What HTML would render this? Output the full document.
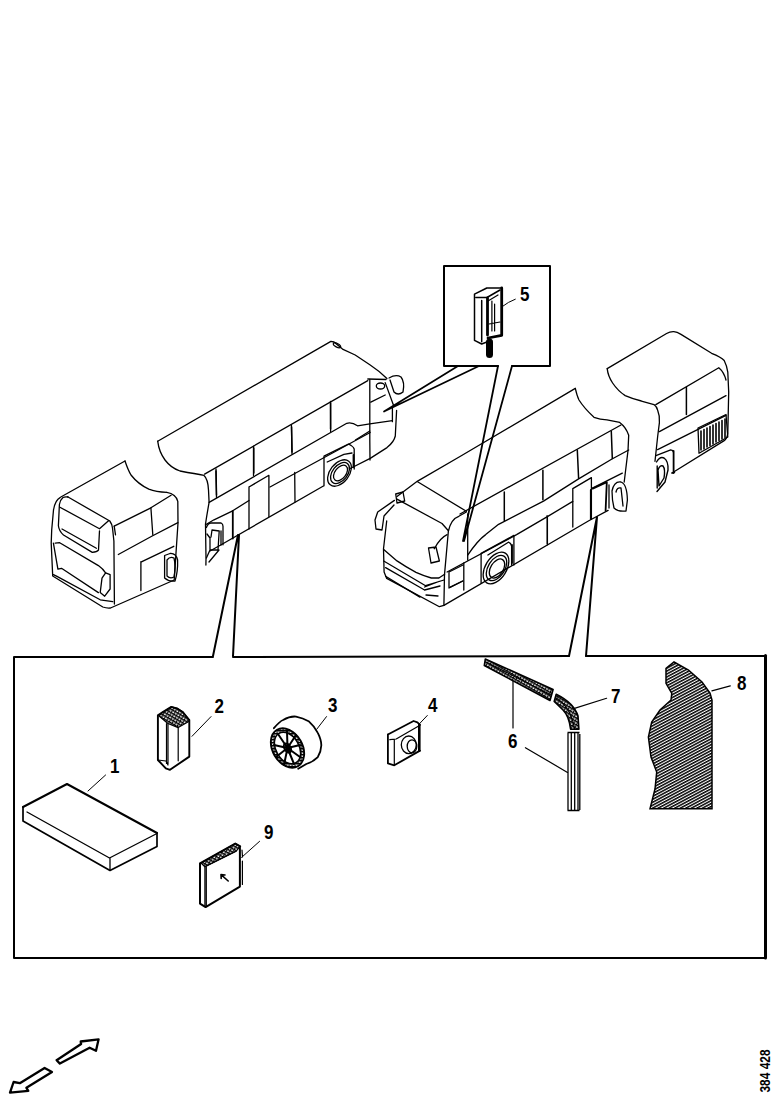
<!DOCTYPE html>
<html><head><meta charset="utf-8">
<style>
html,body{margin:0;padding:0;background:#fff;}
body{width:778px;height:1100px;overflow:hidden;position:relative;}
svg{position:absolute;left:0;top:0;}
text{font-family:"Liberation Sans",sans-serif;font-weight:bold;}
</style></head><body>
<svg width="778" height="1100" viewBox="0 0 778 1100">
<defs>
<pattern id="hatch" width="4" height="2.6" patternUnits="userSpaceOnUse" patternTransform="rotate(-28)">
<rect width="4" height="1.5" fill="#000"/>
</pattern>
<pattern id="hatch2" width="3" height="3" patternUnits="userSpaceOnUse" patternTransform="rotate(30)">
<rect width="3" height="1.5" fill="#000"/><rect x="0" y="1.5" width="1.2" height="1.5" fill="#000"/>
</pattern>
</defs>
<g fill="none" stroke="#000" stroke-linejoin="round" stroke-linecap="round">
<!-- main box -->
<path stroke-width="2" d="M213,657 L14,657 L14,958 L765,958 M765,656 L586,656 M569,656 L233,657"/><path stroke-width="3" d="M765.5,655.5 L765.5,958"/>
<!-- leaders -->
<path stroke-width="2" d="M213,656 L238,535 M233,656 L239,535 M569,656 L597,517 M586,656 L597,517"/>
<!-- inset box -->
<path stroke-width="2" d="M498,366 L444,366 L444,266 L550,266 L550,366 L512,366"/>
<path stroke-width="1.8" d="M498,366 L463,541 M512,366 L464,541"/>
<path stroke-width="1.7" d="M458,366 L384,411.5 M479,366 L384,411.5"/>
<!-- part 1 -->
<path stroke-width="2" d="M23,807 L67,784 L157,833"/>
<path stroke-width="1.7" d="M23,807 L23,821 L110,870.5 L157,846.5 L157,833"/><path stroke-width="1.3" d="M27,812 L109.5,858 L156,834 M110,858 L110,870"/>
<path stroke-width="1" d="M88,791 L105.6,775"/>
<!-- part 2 -->
<path fill="url(#hatch2)" stroke-width="1.2" d="M159,716 L162.4,712.4 L171.3,706.9 L176.9,708.3 L182.4,711.7 L189.3,720 L187.9,722.1 L178.2,727.6 L167.9,723.5 Z"/>
<path stroke-width="1.9" d="M157.9,715.2 L157.9,760 L165.8,768.4 L170,769.8 L189.3,756.6 L189.3,720 M157.9,715.2 L162.4,712.4 L171.3,706.9 L176.9,708.3 L182.4,711.7 L189.3,720"/>
<path stroke-width="1.2" d="M166.5,723.5 L166.5,763.5 M168,724 L168,764 M178.2,727.6 L178.2,760.8 M157.9,760 L166,761 L168,765"/>
<path stroke-width="1" d="M192,736.3 L211,716.6"/>
<!-- part 3 -->
<g stroke-width="1.8">
<ellipse cx="287.5" cy="748" rx="15" ry="21" transform="rotate(-30 287.5 748)" fill="url(#hatch2)"/>
<ellipse cx="287.5" cy="748" rx="11.5" ry="17" transform="rotate(-30 287.5 748)" fill="#fff" stroke-width="1.5"/>
<path d="M273.9,728.2 Q280,721 283.1,720 Q290,716 296,716.6 Q303,718 308.6,721.2 Q315,727 317.8,732.8 Q321.5,740 321.3,745.5 Q321,752 317.8,757.1 Q313,762 306.3,764 L298.2,768.7"/>
</g>
<g stroke-width="2">
<ellipse cx="287.5" cy="748" rx="3" ry="5" transform="rotate(-30 287.5 748)"/>
<path d="M287.5,748 L278,734 M287.5,748 L287,731 M287.5,748 L296,735 M287.5,748 L300,745 M287.5,748 L300,757 M287.5,748 L294,764 M287.5,748 L284,765 M287.5,748 L276,757 M287.5,748 L274,745"/>
</g>
<path stroke-width="1" d="M316.7,729.3 L326.5,716.6"/>
<!-- part 4 -->
<path stroke-width="1.8" d="M387.9,734.5 L413.6,721 L417.4,722.3 L420,724.9 M387.9,734.5 L387.9,763.4 L394.3,765.3 L420,750.6"/>
<path stroke-width="2.6" d="M419.3,724.9 L419.3,750.6"/>
<path stroke-width="1.2" d="M394.3,739.6 L394.3,765.3 M389.8,739.6 L396.2,739 L418.7,726.1"/>
<g stroke-width="1.3"><ellipse cx="408.8" cy="744.8" rx="7.5" ry="8.8"/><ellipse cx="412" cy="746.3" rx="4.8" ry="6.5"/></g>
<path stroke-width="1" d="M419.7,723.5 L427.3,715.5"/>
<!-- part 9 -->
<path fill="url(#hatch2)" stroke-width="1.2" d="M201,863 L235.3,843.5 L240,846.3 L236,851.3 L204.9,866.8 Z"/>
<path stroke-width="2" d="M200,863.3 L235.3,843.5 L240.2,846.3 M200,863.3 L200,903.6 L205.6,907.1 L239.9,886.6 L239.9,846.3"/>
<path stroke-width="1.2" d="M204.9,866.8 L204.9,905.7 M206.3,867 L206.3,906 M204.9,866.8 L236,851.3 M242.4,861.2 L242.4,884.5 M242,850 L242.5,857"/>
<path stroke-width="1.6" d="M221,874.6 L228.2,881 M221,874.6 L221.2,878.5 M221,874.6 L225,875"/>
<path stroke-width="1" d="M241.6,857.4 L259.6,841.3"/>
<!-- part 6/7 -->
<path stroke-width="1.2" d="M513,681 L513,728 M525.4,747.7 L567.5,772.4 M573.7,708.6 L606.6,698.3 M711.9,690.9 L730.3,685.9"/>

</g>
<!-- part 6 tube -->
<g stroke="#000" stroke-linejoin="round">
<path fill="url(#hatch2)" stroke-width="1.6" d="M485.3,659 L553.1,689.5 L550,700.5 L484.3,665.5 Z"/>
<path fill="none" stroke-width="1.2" d="M486,662 L551,695"/>
<path fill="url(#hatch2)" stroke-width="1.6" d="M556.2,694.2 Q574,703 578,716 L578.9,729.2 L570.6,729.2 Q569,716 563,710 Q558,705 554.2,701.4 Z"/>
<path fill="none" stroke-width="1.2" d="M556,698 Q571,707 574.5,729"/>
</g>
<path fill="none" stroke="#000" stroke-width="1.3" d="M568,733 L568,810.5 M571.3,733 L571.3,810.5 M574.7,733 L574.7,810.5 M578,733 L578,810.5 M579.8,734 L579.8,810 M567.5,732.5 L579.5,732.5 M567.5,810.5 L579.5,810.5"/>
<!-- part 8 -->
<path fill="url(#hatch)" stroke="#000" stroke-width="1.5" d="M674,662 L688.5,670 L702,682 L710,693 L712,700 L712,808.7 L650,808.7 L655,789 L656.7,772 L651,757 L648.4,737 L651.7,722 L660,710 L671,700 L671.8,693.4 L666,683.4 L666,668.4 Z"/>
<!-- BUS1 rear-view left -->
<g fill="none" stroke="#000" stroke-width="1.3" stroke-linejoin="round" stroke-linecap="round">
<path d="M125,461 L60.4,497.3 Q55,500 53.5,510 L51.7,530 L51.2,543 L52.7,576 L102.8,607 Q107,608.5 110.5,608 L174.2,580 L176,553 L178,523 L177.8,501.4 Q176,494 166.8,492.4"/>
<path d="M125,461 Q128,470 131,475 Q138,484 148.8,489.2 Q156,492 166.8,492.4"/>
<path d="M67.6,496.8 L109.8,521 Q112,524 112.5,528 L113.9,541 L114.4,604"/>
<path d="M59.4,504.5 Q60,500 63,497.5 Q65,496.5 68,497 M59.4,504.5 L58.4,525.7 Q59,531 63.5,535 L92.3,552.4 Q97,552 98.5,550 L99.5,530.8"/>
<path d="M59.9,507.2 L99.5,528.8 L108.8,520.6"/>
<path d="M62,529 L96.4,548.3"/>
<path d="M55.2,543.1 L59.7,542.7 L98.4,565.6 Q103,569 105.6,572.8"/>
<path d="M53.4,543.1 L57.9,569.2 L61.5,568.3 L98.4,592.6"/>
<path d="M53.4,574.6 L57,576.4 L100.2,599.8 L112.8,601.6"/>
<path d="M114.2,526.2 L150.9,507.8 L171.1,495.3"/>
<path d="M115.5,534.8 L114.2,526.2 M150.9,507.8 L152.8,534.8"/>
<path d="M118.3,554.5 L152.2,536 L177.9,522.6"/>
<path d="M141.9,561.7 L173.8,546.3 M140.9,561.7 L140.9,590.5"/>
<path d="M164.6,555.5 L164.6,578.1 Q169,582 175,581 Q178,572 177.6,560 Q176,553 170,553.5 Z"/>
<path d="M167,560 Q170,556 174,558 Q176,566 174,577 Q170,579 167,576 Z"/>
<path d="M105.6,572.8 L110.1,574.6 L110.1,589 L104.7,596.2 L100.2,592.6 L102,578.2 Z"/>
</g>
<!-- BUS2 middle left -->
<g fill="none" stroke="#000" stroke-width="1.3" stroke-linejoin="round" stroke-linecap="round">
<path d="M157.7,441.2 L330.9,341.4 L334,342 L342.5,349.1 L355.2,355 L370.2,365 Q380,371.5 386.9,378.5"/><ellipse cx="337" cy="345.3" rx="4" ry="1.8" transform="rotate(28 337 345.3)"/>
<path d="M157.7,441.2 Q159,452 165,460 Q171,468 180,471 Q196,474 204,475.4 Q208,479 208.5,490 L209.1,502.4 Q207,514 205.5,524 L206,559 L205.9,565"/>
<path d="M204.6,474.1 L367.8,380.6"/>
<path d="M209.1,502.4 L346.8,423.3 Q352,422 357.5,425.8 L369.8,423.8 L392.4,420.7"/>
<path d="M216,469 L216.5,497.5 M253.5,446.2 L253.5,475.5 M291.4,425 L292,454 M330.5,401.3 L330.6,431.5"/>
<path stroke-width="1.5" d="M216,471 L216.5,495 M253.8,448 L253.8,473 M291.6,427 L292,452 M330.6,403 L330.6,429"/>
<path d="M369.8,379.5 L369.8,440 L370,460"/>
<path d="M249,487 L268.5,475.5 M249,487 L249,529 M268.9,475.5 L268.9,516.6"/>
<path d="M270,487 L370.2,432.5"/>
<path d="M210,551 L220.7,545 L323.4,486"/>
<path d="M350.2,468.5 L370.2,458.4 L387,447.6 Q394,442 395.3,436 L396.6,410.4"/>
<path d="M294.7,472.4 L295,502"/>
<path d="M324,485.8 L324,456.2 L348.4,444 Q353,446 354.2,449 L354.2,469"/>
<path d="M327.2,462 L343.9,454.3 L352,453"/>
<path stroke-width="1.8" d="M353.5,455 L353.5,467"/>
<ellipse cx="339.5" cy="473" rx="15" ry="9.5" transform="rotate(-52 339.5 473)"/>
<ellipse cx="340" cy="473" rx="12" ry="7.5" transform="rotate(-52 340 473)"/>
<ellipse cx="340.5" cy="473" rx="9" ry="5.5" transform="rotate(-52 340.5 473)"/>
<path d="M206.4,524.3 L214,519.8 L232.7,510.8 L249,500.5"/>
<path stroke-width="1.8" d="M232.8,510.8 L232.8,538.5"/>
<path d="M367.8,379 L386,379.5 M370.8,402.2 L385.2,395 M392.4,406.3 L392.4,421.7 M385.2,382.6 L393.5,405.2 M355.4,440 L369.8,431"/>
<ellipse cx="380.5" cy="386" rx="4.2" ry="3"/>
<path d="M389,378 Q396,374 401,377 Q405,382 403,392 Q398,396 394,392 L390,380"/>
<path d="M206.4,527.5 Q208,523 211,523 L221.1,523 Q223,524 223,526.2 L223,544.8 M207,534 L210,538 L210,550 L218,550 L219.2,531 L212,530 L211,537 M221,531 L221,545 M210,550 L206.4,558 M219,550 L209,562"/>
</g>
<!-- BUS3 front right -->
<g fill="none" stroke="#000" stroke-width="1.3" stroke-linejoin="round" stroke-linecap="round">
<path d="M397,496.6 L417.6,481.1 L460,456.5 L575.3,388.4"/>
<path d="M575.3,388.4 Q577,396 579,400 Q584,408 594,417.3 Q600,419.5 607,419.8 L619.7,422.4 Q626,427 628.7,435.3 L628,450.7 L624.2,482"/>
<path d="M417.6,481.8 L466.4,511.3"/>
<path d="M397,499.1 L442,523.5 L448.4,530.8 M448.4,531 Q451,519 458.8,516.3 L466.4,512"/>
<path d="M395.7,494 L403,492 L404.7,501 L397,503 Z"/>
<path d="M394.4,500.4 L377.7,512 L375,520 L376,529 L382,530 L384,516 L394,505"/>
<path d="M386.7,521 L383.5,548.8 L384.1,572 L386.7,578.4 L439.4,606.7 L443.9,605.4 L588.8,520.7 L608.1,510.4"/>
<path d="M383.7,549.5 Q390,555 397,560.9 Q406,567 416,572.4 Q424,576 431.3,578 L438.9,578 L444.6,574.3"/>
<path d="M448.4,530.8 L444.5,574.6 L443.9,605.4"/>
<path d="M434.3,548.8 Q440,538 447.1,534.7 M428.5,548 L436,547 L439.4,561 L431,563 Z"/>
<path d="M383.7,561 L425.6,585.7 L444,580 M385.6,567.6 L423.7,589.5 M385.6,576.2 L419.9,597.1 M424.6,587 L438.9,581.5 M424.6,590 L440,586 M426,595 L438,596"/>
<path d="M447.1,572 L516.6,534.6 L547.4,516.6 L572.8,501.4 M449.7,587.4 L462.5,581"/>
<path d="M463.8,563 L463.8,590"/>
<path d="M460,514 L621,425"/>
<path d="M467.7,555.1 Q478,540 485.7,534.6 L498.6,524.3 L543.5,501.1 L578.6,478.9 L612,459 L628.7,450"/>
<path d="M467.7,514 L467.7,560"/>
<path stroke-width="1.5" d="M504.3,492.1 L504.3,520.4 M542.9,470.3 L542.9,499.8 M577.3,450 L578.6,478.3 M611.3,431.4 L612.3,458.4"/>

<path d="M547.4,516.6 L547.4,544.8 M547.1,515.6 L547.1,543.8"/>
<path d="M572.8,488.6 L591.4,477.6 M572.8,488.6 L572.8,527.1 M591.4,477.6 L591.4,519.4 M591.4,488.6 L622.3,473.1"/>
<path stroke-width="1.8" d="M590.8,490 L590.8,519 M592.7,488.6 L606.8,482.1 L605.6,510.4"/>
<path d="M612,491 Q614,481 621,482 Q627,484 627.4,500 L626,511 Q618,512 614,508 Q612,500 612,491 M616,492 Q617,487 621,488 L623,506"/>
<path d="M609,485 L609,508"/>
<!-- wheel -->
<path d="M481.1,583 L481.1,553.4 L513.9,535.4 L513.9,565"/>
<path stroke-width="1.8" d="M512,545 L512,563"/>
<ellipse cx="496" cy="568" rx="17.5" ry="10.5" transform="rotate(-58 496 568)"/>
<ellipse cx="496.5" cy="568" rx="14" ry="8.3" transform="rotate(-58 496.5 568)"/>
<ellipse cx="497" cy="568.5" rx="10.5" ry="6.3" transform="rotate(-58 497 568.5)"/>
<path d="M487.9,555 L508.4,542.2 Q511,543 511.6,546 L511.6,565"/>
<path d="M449,572 L463,565 M449,572 L449,588 L463,581"/>
</g>
<!-- BUS4 rear right -->
<g fill="none" stroke="#000" stroke-width="1.3" stroke-linejoin="round" stroke-linecap="round">
<path d="M607.2,368.6 L666.6,333.5 Q670,331.5 673.8,331.7 Q677,332 681,334.4 L711.6,353.3 Q721,357 724.2,360.5 Q727,366 727.8,372.2 L728.7,392 L727.8,433.4 Q727,439 724.2,440.6 L672,473"/>
<path d="M607.2,368.6 Q608,376 612.6,383 Q618,391 625.2,395.6 Q633,399 641.4,401 L654,404.6 Q657,407 657.6,410 Q660,416 659.4,422.6 L657.6,437 L655,461.3"/>
<path d="M655.8,404.6 L718.8,367.7 Q724,372 726,380"/>
<path d="M659.4,431.6 L726,395.6"/>
<path stroke-width="1.5" d="M686.4,387.5 L686.4,414.5"/>
<path d="M657.6,449.6 L726,415.4"/>
<path d="M698,428 L726,414.5 L727.8,437 L699,453.2 Z"/>
<path stroke-width="1.6" d="M701,431 L701,450 M704,429.5 L704,449 M707,428 L707,447 M710,426.5 L710,445.5 M713,425 L713,444 M716,423.5 L716,442 M719,422 L719,440.5 M722,420.5 L722,439 M725,419 L725,437.5"/>
<path d="M655.9,455.6 L670.7,449.8 Q673,450 673.3,452 M674.6,472.3 L672,473"/><path stroke-width="1.8" d="M673.6,451 L673.6,473"/>
<path stroke-width="1.4" d="M656.5,462 Q660,456 664,458 Q668.5,461 668,470 L665,482 L657,491.5 M658,470 Q660,464.5 663,466 Q665.5,469 664,478 L659,486 Z M657.2,466 L657.2,488"/>

</g>
<!-- part 5 -->
<g fill="none" stroke="#000" stroke-linejoin="round" stroke-linecap="round">
<path stroke-width="1.5" d="M474.5,340.4 L474.5,294.2 L486.8,288 L500.6,288 M481.7,300.4 L481.7,341.8 M474.5,340.4 L481.7,344 L487.5,341.8 M476,297.5 L487,297.5 L500,290"/>
<path stroke-width="2.8" d="M501.7,288 L501.7,335.3 L488,338 M487.5,298 L487.5,335"/>
<path stroke-width="1.2" d="M491.9,301 L491.9,331 M494.6,304 L494.6,331 M489,324 L500,322 M488,301 L498,295"/>
<path stroke-width="7" d="M489.5,342 L489.5,354.5"/>
<path stroke-width="1" d="M502.5,306.4 Q508,302 515.3,299.2"/>
</g>
<!-- numbers -->
<g font-size="20" fill="#000">
<text transform="translate(110,773) scale(0.85,1)">1</text>
<text transform="translate(214.5,713) scale(0.85,1)">2</text>
<text transform="translate(328,712) scale(0.85,1)">3</text>
<text transform="translate(428,712) scale(0.85,1)">4</text>
<text transform="translate(520,301) scale(0.85,1)">5</text>
<text transform="translate(508,747.5) scale(0.85,1)">6</text>
<text transform="translate(611,702.5) scale(0.85,1)">7</text>
<text transform="translate(737,690) scale(0.85,1)">8</text>
<text transform="translate(264,839) scale(0.85,1)">9</text>
</g>
<text x="0" y="0" font-size="14.5" fill="#000" textLength="43" lengthAdjust="spacingAndGlyphs" transform="translate(770,1092.5) rotate(-90)">384 428</text>
<!-- arrows -->
<path fill="none" stroke="#000" stroke-width="2.3" stroke-linejoin="round" d="M10,1092.6 L13.6,1082 L19.8,1083.2 L44.6,1067.9 L52,1071.9 L26.4,1087.8 L28.3,1090.8 Z"/>
<path fill="none" stroke="#000" stroke-width="2.3" stroke-linejoin="round" d="M56.6,1060.2 L81.1,1044 L80.7,1041.5 L98.6,1039.3 L96,1050.8 L89.6,1047.7 L59.9,1063.6 Z"/>
</svg>
</body></html>
